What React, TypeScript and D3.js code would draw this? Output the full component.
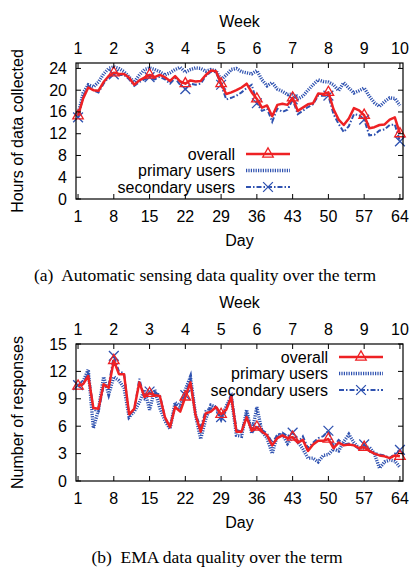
import * as d3 from 'd3';

// x axis: day of term, top axis: week
const dayTicks = [1, 8, 15, 22, 29, 36, 43, 50, 57, 64];
const weekTicks = ['1', '2', '3', '4', '5', '6', '7', '8', '9', '10'];

// (a) hours of data collected per day
const hoursTicks = [0, 4, 8, 12, 16, 20, 24];
const hoursOverall = [
  15.3, 18.5, 20.5, 20.0, 19.9, 21.5, 22.6, 23.2, 23.0, 23.0, 22.3, 21.0, 21.8, 22.3, 22.8, 22.4,
  22.8, 22.4, 21.7, 22.6, 21.6, 21.2, 21.8, 21.6, 21.7, 22.8, 23.6, 23.5, 21.2, 19.3, 19.6, 20.0,
  20.5, 21.2, 19.6, 18.4, 16.8, 17.2, 15.2, 17.3, 17.5, 17.3, 18.6, 16.2, 16.8, 17.4, 17.6, 19.4,
  19.3, 19.6, 16.5, 14.6, 13.6, 14.8, 16.7, 16.3, 15.4, 13.0, 13.2, 13.6, 13.7, 14.6, 15.0, 12.0,
];
const hoursPrimary = [
  15.5, 19.5, 21.0, 20.6, 21.5, 23.0, 24.0, 24.3, 24.0, 23.4, 22.4, 21.5, 22.8, 23.8, 24.1, 23.8,
  23.4, 22.8, 23.2, 23.8, 24.2, 23.3, 23.8, 24.1, 24.0, 23.5, 23.8, 23.6, 21.9, 22.8, 23.8, 24.0,
  23.4, 23.2, 23.0, 23.6, 21.9, 20.8, 21.4, 20.2, 19.8, 19.2, 19.3, 18.4, 18.9, 20.0, 21.0, 21.9,
  21.6, 21.5, 21.0, 19.9, 21.4, 20.4, 19.5, 19.9, 20.4, 18.9, 17.7, 17.0, 17.9, 18.6, 18.5, 17.2,
];
const hoursSecondary = [
  15.0, 18.8, 20.8, 20.0, 19.6, 21.2, 22.4, 22.9, 22.8, 22.8, 22.0, 20.8, 21.5, 22.0, 22.4, 22.0,
  22.5, 22.0, 21.2, 22.2, 21.0, 20.2, 21.2, 21.0, 21.2, 22.6, 23.4, 23.3, 21.0, 18.3, 18.6, 19.0,
  19.6, 20.4, 21.0, 17.6, 16.2, 16.6, 14.2, 16.6, 16.0, 16.4, 18.3, 15.6, 16.2, 16.9, 17.4, 19.0,
  19.0, 19.0, 15.6, 13.8, 12.3, 13.4, 15.6, 15.4, 14.6, 11.7, 11.8, 12.6, 12.8, 13.6, 13.7, 10.6,
];

// (b) number of EMA responses per day
const responseTicks = [0, 3, 6, 9, 12, 15];
const emaOverall = [
  10.4, 10.6, 11.5, 8.0, 7.9, 10.6, 10.2, 13.2, 11.7, 11.7, 7.3, 7.9, 10.8, 9.2, 9.6, 9.4,
  9.3, 7.0, 5.9, 8.1, 7.6, 9.2, 10.8, 7.2, 5.4, 7.4, 7.6, 8.1, 7.3, 7.8, 9.2, 5.4,
  5.4, 7.0, 5.5, 5.9, 5.4, 5.0, 3.9, 4.7, 5.0, 4.7, 4.8, 4.2, 4.5, 3.3, 4.0, 4.4,
  4.4, 4.6, 3.6, 4.2, 3.9, 4.0, 3.9, 3.6, 3.7, 3.3, 3.0, 2.8, 2.7, 2.5, 2.8, 2.7,
];
const emaPrimary = [
  10.3, 10.9, 12.2, 5.8, 7.8, 11.4, 9.5, 11.4, 11.0, 10.2, 7.0, 7.6, 8.6, 10.0, 7.8, 10.0,
  8.0, 6.6, 5.7, 8.6, 8.2, 10.0, 11.4, 7.2, 4.6, 6.8, 8.3, 8.1, 6.8, 8.2, 9.2, 5.0,
  4.9, 7.8, 5.2, 8.1, 5.4, 4.7, 3.0, 5.0, 5.1, 4.1, 4.8, 4.3, 3.5, 2.5, 2.5, 2.1,
  2.8, 2.9, 3.5, 3.3, 4.3, 5.1, 4.2, 3.6, 3.6, 3.7, 3.0, 1.4, 2.1, 2.3, 2.2, 1.5,
];
const emaSecondary = [
  10.5, 10.5, 12.0, 7.8, 7.6, 10.4, 10.5, 13.7, 12.0, 11.8, 7.2, 7.8, 11.2, 9.0, 9.8, 9.6,
  9.5, 7.0, 5.8, 8.4, 7.8, 9.4, 11.3, 7.4, 5.8, 7.8, 7.9, 8.2, 7.0, 8.0, 9.6, 5.6,
  5.4, 7.4, 5.6, 5.8, 5.6, 5.2, 4.2, 5.0, 5.3, 4.9, 5.3, 4.2, 4.9, 3.6, 4.2, 4.7,
  4.9, 5.5, 3.8, 4.5, 4.0, 4.1, 3.9, 3.5, 4.0, 3.2, 3.1, 2.9, 2.8, 2.5, 3.0, 3.4,
];

const seriesNames = ['overall', 'primary users', 'secondary users'];

const RED = '#ee2124';
const BLUE = '#2f52b0';
const SANS = '"Liberation Sans", Arial, sans-serif';
const SERIF = '"Liberation Serif", "Times New Roman", serif';

const x = d3.scaleLinear().domain([0.6, 64.6]).range([76, 403]);

const triangle = d3.symbol(d3.symbolTriangle, 48)();
const cross = d3.symbol(d3.symbolX, 64)();

function Panel({ top, bottom, yMax, yTicks, yTitle, overall, primary, secondary, legendRight, legendTop, caption, captionX }) {
  const y = d3.scaleLinear().domain([0, yMax]).range([bottom, top]);
  const line = d3.line<number>().x((_, i) => x(i + 1)).y(d => y(d));
  const marked = (vals: number[]) => vals.map((v, i) => ({ v, i })).filter(d => d.i % 7 === 0);
  const [x0, x1] = x.range();
  const rows = [0, 1, 2].map(i => legendTop + i * 16.5);
  const lx0 = legendRight + 11;
  const lx1 = legendRight + 55;

  return (
    <g>
      {/* series */}
      <path d={line(primary)} fill="none" stroke={BLUE} strokeWidth={3.4} strokeDasharray="1.2,1.2" />
      <path d={line(secondary)} fill="none" stroke={BLUE} strokeWidth={2} strokeDasharray="5,2,1.5,2" />
      {marked(secondary).map(d => (
        <path key={d.i} d={cross} transform={`translate(${x(d.i + 1)},${y(d.v)})`} fill="none" stroke={BLUE} strokeWidth={1.3} />
      ))}
      <path d={line(overall)} fill="none" stroke={RED} strokeWidth={2.5} strokeLinejoin="round" />
      {marked(overall).map(d => (
        <path key={d.i} d={triangle} transform={`translate(${x(d.i + 1)},${y(d.v)})`} fill="none" stroke={RED} strokeWidth={1.3} />
      ))}

      {/* frame and ticks */}
      <rect x={x0} y={top} width={x1 - x0} height={bottom - top} fill="none" stroke="#000" strokeWidth={1.2} />
      {dayTicks.map(t => (
        <g key={t}>
          <line x1={x(t)} x2={x(t)} y1={bottom} y2={bottom - 5} stroke="#000" />
          <line x1={x(t)} x2={x(t)} y1={top} y2={top + 5} stroke="#000" />
        </g>
      ))}
      {yTicks.map(t => (
        <g key={t}>
          <line x1={x0} x2={x0 + 5} y1={y(t)} y2={y(t)} stroke="#000" />
          <line x1={x1} x2={x1 - 5} y1={y(t)} y2={y(t)} stroke="#000" />
          <text x={67} y={y(t)} textAnchor="end" dominantBaseline="central" fontSize={16}>{t}</text>
        </g>
      ))}

      {/* axis labels */}
      {dayTicks.map((t, i) => (
        <g key={t}>
          <text x={x(t)} y={bottom + 17} textAnchor="middle" dominantBaseline="central" fontSize={16}>{t}</text>
          <text x={x(t)} y={top - 15} textAnchor="middle" dominantBaseline="central" fontSize={16}>{weekTicks[i]}</text>
        </g>
      ))}
      <text x={(x0 + x1) / 2} y={top - 42} textAnchor="middle" dominantBaseline="central" fontSize={16}>Week</text>
      <text x={(x0 + x1) / 2} y={bottom + 41} textAnchor="middle" dominantBaseline="central" fontSize={16}>Day</text>
      <text transform={`translate(17,${(top + bottom) / 2}) rotate(-90)`} textAnchor="middle" dominantBaseline="central" fontSize={16}>{yTitle}</text>

      {/* legend */}
      {seriesNames.map((name, i) => (
        <text key={name} x={legendRight} y={rows[i]} textAnchor="end" dominantBaseline="central" fontSize={16}>{name}</text>
      ))}
      <line x1={lx0} x2={lx1} y1={rows[0]} y2={rows[0]} stroke={RED} strokeWidth={2.5} />
      <path d={triangle} transform={`translate(${(lx0 + lx1) / 2},${rows[0]})`} fill="none" stroke={RED} strokeWidth={1.3} />
      <line x1={lx0} x2={lx1} y1={rows[1]} y2={rows[1]} stroke={BLUE} strokeWidth={3.4} strokeDasharray="1.2,1.2" />
      <line x1={lx0} x2={lx1} y1={rows[2]} y2={rows[2]} stroke={BLUE} strokeWidth={2} strokeDasharray="5,2,1.5,2" />
      <path d={cross} transform={`translate(${(lx0 + lx1) / 2},${rows[2]})`} fill="none" stroke={BLUE} strokeWidth={1.3} />

      <text x={captionX} y={bottom + 76} textAnchor="middle" dominantBaseline="central" fontSize={17.5} fontFamily={SERIF} style={{ whiteSpace: 'pre' }}>{caption}</text>
    </g>
  );
}

export default function App() {
  return (
    <svg width={412} height={568} style={{ position: 'absolute', left: 0, top: 0, background: '#fff' }} fontFamily={SANS}>
      <Panel
        top={63} bottom={199} yMax={25} yTicks={hoursTicks} yTitle="Hours of data collected"
        overall={hoursOverall} primary={hoursPrimary} secondary={hoursSecondary}
        legendRight={235} legendTop={154}
        caption="(a)  Automatic sensing data quality over the term" captionX={205}
      />
      <Panel
        top={344} bottom={481} yMax={15} yTicks={responseTicks} yTitle="Number of responses"
        overall={emaOverall} primary={emaPrimary} secondary={emaSecondary}
        legendRight={328} legendTop={357}
        caption="(b)  EMA data quality over the term" captionX={217}
      />
    </svg>
  );
}
